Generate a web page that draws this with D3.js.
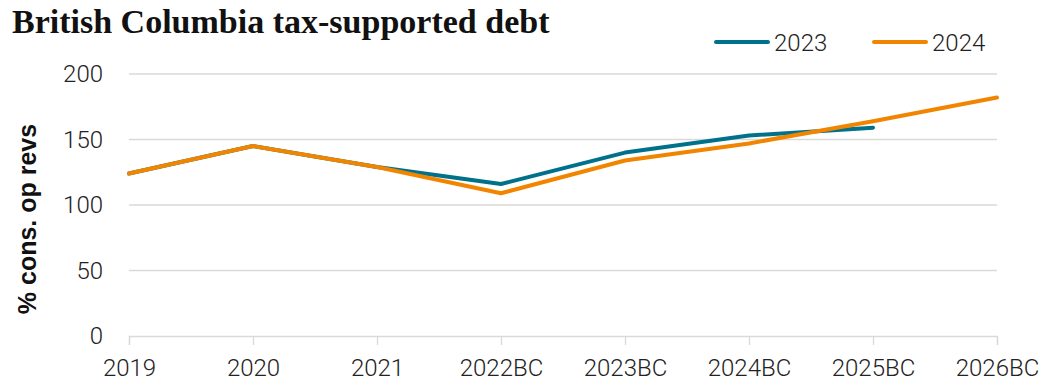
<!DOCTYPE html>
<html>
<head>
<meta charset="utf-8">
<script src="https://cdn.jsdelivr.net/npm/d3@7"></script>
<style>
  html, body { margin: 0; padding: 0; background: #fff; }
  svg { display: block; }
</style>
</head>
<body>
<svg id="chart" width="1046" height="384"></svg>
<script>
// Tax-supported debt as a share of consolidated operating revenues
const categories = ["2019", "2020", "2021", "2022BC", "2023BC", "2024BC", "2025BC", "2026BC"];
const series2023 = [124, 145, 129, 116, 140, 153, 159, null];
const series2024 = [124, 145, 129, 109, 134, 147, 164, 182];
const yTicks = [0, 50, 100, 150, 200];
const seriesNames = ["2023", "2024"];
const seriesColors = ["#00718B", "#F28500"];

const svg = d3.select("#chart");
const margin = { left: 129, right: 49, top: 74, bottom: 48 };
const W = 1046, H = 384;

const x = d3.scalePoint().domain(categories).range([margin.left, W - margin.right]);
const y = d3.scaleLinear().domain([0, 200]).range([H - margin.bottom, margin.top]);

const labelFont = "Roboto, 'Liberation Sans', sans-serif";

// Title
svg.append("text")
  .attr("x", 12).attr("y", 33)
  .attr("font-family", "'Liberation Serif', 'DejaVu Serif', serif")
  .attr("font-weight", "bold")
  .attr("font-size", 34)
  .attr("fill", "#111")
  .text("British Columbia tax-supported debt");

// Horizontal gridlines
svg.append("g")
  .selectAll("line")
  .data(yTicks.filter(d => d > 0))
  .join("line")
  .attr("x1", margin.left).attr("x2", W - margin.right)
  .attr("y1", d => y(d)).attr("y2", d => y(d))
  .attr("stroke", "#d9d9d9").attr("stroke-width", 1.3);

// Y axis labels
const yAxis = svg.append("g")
  .attr("transform", `translate(${margin.left},0)`)
  .call(d3.axisLeft(y).tickValues(yTicks).tickSize(0).tickPadding(26));
yAxis.select(".domain").remove();
yAxis.selectAll("text")
  .attr("font-family", labelFont)
  .attr("font-weight", 300)
  .attr("font-size", 24)
  .attr("fill", "#222");

// X axis
const xAxis = svg.append("g")
  .attr("transform", `translate(0,${y(0)})`)
  .call(d3.axisBottom(x).tickSize(9).tickPadding(14));
xAxis.select(".domain").attr("stroke", "#d9d9d9").attr("stroke-width", 1.3);
xAxis.selectAll(".tick line").attr("stroke", "#d9d9d9").attr("stroke-width", 1.3);
xAxis.selectAll("text")
  .attr("font-family", labelFont)
  .attr("font-weight", 300)
  .attr("font-size", 24)
  .attr("fill", "#222");

// Y axis title
svg.append("text")
  .attr("transform", `translate(36,${(y(0) + y(200)) / 2 + 14}) rotate(-90)`)
  .attr("text-anchor", "middle")
  .attr("font-family", "'Liberation Sans', Arial, sans-serif")
  .attr("font-weight", "bold")
  .attr("font-size", 25)
  .attr("fill", "#111")
  .text("% cons. op revs");

// Lines
const line = d3.line()
  .defined(d => d.v != null)
  .x(d => x(d.c))
  .y(d => y(d.v));

[series2023, series2024].forEach((vals, i) => {
  const data = categories.map((c, j) => ({ c, v: vals[j] }));
  svg.append("path")
    .datum(data)
    .attr("fill", "none")
    .attr("stroke", seriesColors[i])
    .attr("stroke-width", 4)
    .attr("stroke-linecap", "round")
    .attr("stroke-linejoin", "round")
    .attr("d", line);
});

// Legend
const legendX = [716, 874];
seriesNames.forEach((name, i) => {
  const g = svg.append("g").attr("transform", `translate(${legendX[i]},42)`);
  g.append("line")
    .attr("x1", 0).attr("x2", 52).attr("y1", 0).attr("y2", 0)
    .attr("stroke", seriesColors[i]).attr("stroke-width", 4)
    .attr("stroke-linecap", "round");
  g.append("text")
    .attr("x", 58).attr("y", 9)
    .attr("font-family", labelFont)
    .attr("font-weight", 300)
    .attr("font-size", 24)
    .attr("fill", "#222")
    .text(name);
});
</script>
</body>
</html>
